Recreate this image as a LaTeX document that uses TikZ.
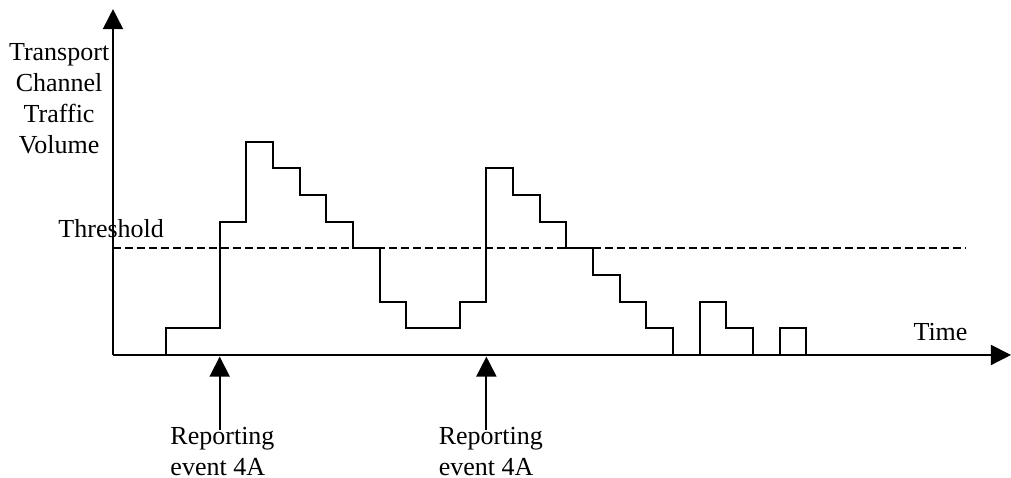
\documentclass[tikz,border=0pt]{standalone}
\usepackage{fontspec}
\setmainfont{Liberation Serif}
\usetikzlibrary{arrows.meta}
\begin{document}
\begin{tikzpicture}[x=13.333pt,y=13.333pt,
    axis/.style={line width=0.9pt,-{Triangle[width=10pt,length=10pt]}},
    pointer/.style={line width=0.9pt,-{Triangle[width=10pt,length=10pt]}},
    lbl/.style={inner sep=0pt,font=\fontsize{13}{15.5}\selectfont}]
  \useasboundingbox (-4.237,-4.612) rectangle (33.67,13.31);
  % axes
  \coordinate (O) at (0,0);
  \coordinate (ytip) at (0,12.97);
  \coordinate (xtip) at (33.67,0);
  \draw[axis] (O) -- (ytip);
  \draw[axis,line width=0.75pt] (O) -- (xtip);
  % threshold
  \coordinate (th0) at (0,4);
  \coordinate (th1) at (32,4);
  \draw[line width=1pt,dash pattern=on 4pt off 2pt] (th0) -- (th1);
  % traffic volume
  \draw[line width=1pt] (0,0) -- (2,0) -- (2,1) -- (4,1) -- (4,5) -- (5,5)
    -- (5,8) -- (6,8) -- (6,7) -- (7,7) -- (7,6) -- (8,6) -- (8,5) -- (9,5)
    -- (9,4) -- (10,4) -- (10,2) -- (11,2) -- (11,1) -- (13,1) -- (13,2)
    -- (14,2) -- (14,7) -- (15,7) -- (15,6) -- (16,6) -- (16,5) -- (17,5)
    -- (17,4) -- (18,4) -- (18,3) -- (19,3) -- (19,2) -- (20,2) -- (20,1)
    -- (21,1) -- (21,0) -- (22,0) -- (22,2) -- (23,2) -- (23,1) -- (24,1)
    -- (24,0) -- (25,0) -- (25,1) -- (26,1) -- (26,0) -- (29,0);
  % labels
  \node[lbl,align=center] (ylabel) at (-2.02,9.6)
    {Transport\\Channel\\Traffic\\Volume};
  \node[lbl,anchor=base west] (thlabel) at (-2.06,4.39) {Threshold};
  \node[lbl,anchor=base west] (xlabel) at (30.0,0.56) {Time};
  % reporting events
  \coordinate (evt1) at (4,-0.06);
  \coordinate (evt2) at (14,-0.06);
  \node[lbl,align=left,anchor=base west] (rep1) at (2.14,-4.537)
    {Reporting\\event 4A};
  \node[lbl,align=left,anchor=base west] (rep2) at (12.2,-4.537)
    {Reporting\\event 4A};
  \coordinate (foot1) at (4,-2.81);
  \coordinate (foot2) at (14,-2.81);
  \draw[pointer] (foot1) -- (evt1);
  \draw[pointer] (foot2) -- (evt2);
\end{tikzpicture}
\end{document}
